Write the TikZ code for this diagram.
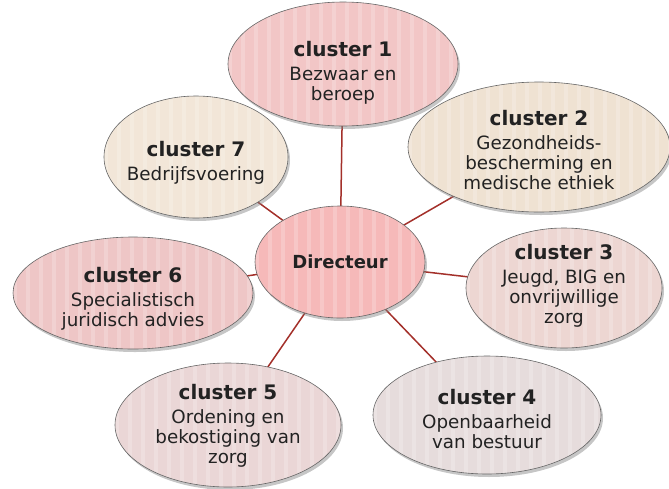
\documentclass[tikz,border=0pt]{standalone}
\usepackage{fontspec}
\setmainfont{DejaVu Sans}
\usetikzlibrary{shapes.geometric,shadows,backgrounds,calc}
\definecolor{cpinkA}{HTML}{F2C6C6}
\definecolor{cbeigeA}{HTML}{EFE2D2}
\definecolor{cbeigeB}{HTML}{F2E6D8}
\definecolor{cdir}{HTML}{F6B9B9}
\definecolor{cpinkB}{HTML}{EEC6C6}
\definecolor{cpinkC}{HTML}{EDD6D2}
\definecolor{cpinkD}{HTML}{EAD6D6}
\definecolor{cgrayA}{HTML}{E6DCDC}
\definecolor{linkred}{HTML}{A3302A}
\definecolor{txtdark}{HTML}{222222}
\tikzset{
  bubble/.style={ellipse, draw=gray!80!black, line width=0.6pt, inner sep=0pt,
    drop shadow={opacity=0.45, shadow xshift=2pt, shadow yshift=-3pt},
    path picture={
      \foreach \k in {0,...,22}
        \fill[white, opacity=0.2]
          ($(path picture bounding box.north west)+(\k*13pt,0)$) rectangle
          ++(4pt,-200pt);
    }},
  btext/.style={inner sep=0pt, align=center, text=txtdark,
    font=\fontsize{18.3}{20}\selectfont},
  link/.style={draw=linkred, line width=1.5pt}
}
\newcommand{\cltitle}[1]{{\bfseries\fontsize{20}{22}\selectfont #1}\\[4pt]}
\begin{document}
\begin{tikzpicture}[x=1pt,y=-1pt]
\useasboundingbox (0,0) rectangle (669,488);
\node[bubble, fill=cdir, minimum width=170pt, minimum height=112pt] (dir) at (340,262) {};
\node[bubble, fill=cpinkA, minimum width=230pt, minimum height=124pt] (c1) at (343,64) {};
\node[bubble, fill=cbeigeA, minimum width=262pt, minimum height=130pt] (c2) at (539,147) {};
\node[bubble, fill=cbeigeB, minimum width=184pt, minimum height=122pt] (c7) at (196,157) {};
\node[bubble, fill=cpinkC, minimum width=196pt, minimum height=120pt] (c3) at (564,288) {};
\node[bubble, fill=cpinkB, minimum width=240pt, minimum height=112pt] (c6) at (133,293) {};
\node[bubble, fill=cpinkD, minimum width=226pt, minimum height=124pt] (c5) at (228,425) {};
\node[bubble, fill=cgrayA, minimum width=228pt, minimum height=118pt] (c4) at (487,415) {};
\node[btext] (td) at (dir.center) {{\bfseries\fontsize{18}{22}\selectfont Directeur}};
\node[btext] (t1) at ($(c1.center)+(0,9)$) {\cltitle{cluster 1}Bezwaar en\\beroep};
\node[btext] (t2) at ($(c2.center)+(0,3)$) {\cltitle{cluster 2}Gezondheids-\\bescherming en\\medische ethiek};
\node[btext] (t7) at ($(c7.center)+(0,6)$) {\cltitle{cluster 7}Bedrijfsvoering};
\node[btext] (t3) at ($(c3.center)+(0,-2)$) {\cltitle{cluster 3}Jeugd, BIG en\\onvrijwillige\\zorg};
\node[btext] (t6) at ($(c6.center)+(0,6)$) {\cltitle{cluster 6}Specialistisch\\juridisch advies};
\node[btext] (t5) at ($(c5.center)+(0,1)$) {\cltitle{cluster 5}Ordening en\\bekostiging van\\zorg};
\node[btext] (t4) at ($(c4.center)+(0,4)$) {\cltitle{cluster 4}Openbaarheid\\van bestuur};
\begin{scope}[on background layer]
  \foreach \c in {c1,c2,c3,c4,c5,c6,c7}
    \draw[link] (dir.center) -- (\c.center);
\end{scope}
\end{tikzpicture}
\end{document}
